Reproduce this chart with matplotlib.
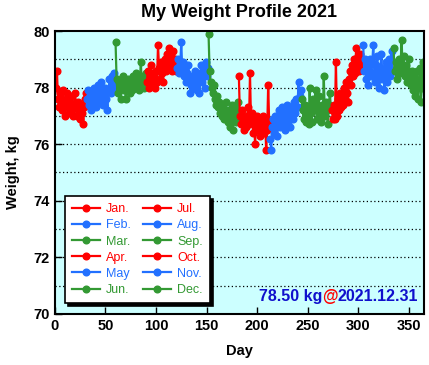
import matplotlib.pyplot as plt

plt.rcParams['font.family'] = ['Liberation Sans', 'DejaVu Sans']

month_names = ['Jan.', 'Feb.', 'Mar.', 'Apr.', 'May', 'Jun.',
               'Jul.', 'Aug.', 'Sep.', 'Oct.', 'Nov.', 'Dec.']
month_colors = ['#ff0000', '#2270ff', '#339933'] * 4

jan = [78.0, 78.6, 77.6, 77.3, 77.8, 77.5, 77.2, 77.9, 77.4, 77.0, 77.6, 77.8, 77.3, 77.1, 77.5, 77.7,
       77.2, 77.0, 77.4, 77.8, 77.3, 77.0, 77.5, 77.2, 76.9, 77.4, 77.1, 76.7, 77.3, 77.6, 77.8]
feb = [77.6, 77.9, 77.4, 77.7, 77.2, 77.8, 77.5, 78.0, 77.6, 77.3, 77.9, 78.1, 77.7, 77.5, 78.2, 77.9,
       77.4, 77.8, 78.0, 77.6, 77.2, 77.9, 78.3, 77.8, 78.4, 78.0, 78.5, 78.1]
mar = [79.6, 78.3, 77.8, 78.2, 78.0, 77.6, 78.1, 78.4, 77.9, 78.2, 77.6, 78.0, 78.3, 78.1, 77.8, 78.2,
       77.9, 78.4, 78.0, 78.2, 78.5, 78.1, 78.3, 77.9, 78.2, 78.9, 78.1, 78.4, 78.0, 78.3, 78.5]
apr = [78.2, 78.6, 78.0, 78.4, 78.8, 78.1, 78.5, 78.3, 78.0, 78.6, 78.2, 79.5, 78.7, 78.3, 78.9, 78.5,
       78.2, 78.8, 79.0, 78.6, 79.2, 78.7, 79.4, 78.9, 79.1, 78.6, 79.3, 78.8, 79.0, 78.6]
may = [78.7, 79.0, 78.5, 78.8, 79.6, 78.6, 78.9, 78.4, 78.7, 78.2, 78.5, 78.8, 78.3, 77.8, 78.1, 78.4,
       78.0, 78.3, 78.6, 78.2, 77.9, 78.4, 77.8, 78.5, 78.8, 78.2, 78.6, 78.0, 78.9, 78.4, 78.7]
jun = [79.9, 78.6, 78.2, 78.0, 77.8, 78.1, 77.6, 77.4, 77.7, 77.3, 77.5, 77.1, 77.4, 77.0, 77.3, 76.9,
       77.2, 77.5, 77.0, 76.8, 77.2, 76.6, 77.0, 77.4, 76.5, 77.1, 77.3, 76.8, 77.2, 77.5]
jul = [78.4, 77.0, 76.7, 77.2, 76.8, 76.5, 77.0, 76.6, 76.9, 77.3, 76.7, 78.5, 76.8, 77.1, 76.4, 76.9,
       76.0, 76.7, 77.0, 76.5, 76.8, 76.3, 76.9, 76.6, 77.0, 76.4, 76.8, 75.8, 76.5, 78.1, 76.7]
aug = [76.2, 75.8, 76.6, 76.9, 76.4, 77.0, 76.7, 76.3, 76.8, 77.2, 76.6, 76.9, 77.3, 76.7, 77.1, 76.5,
       77.0, 77.4, 76.8, 77.2, 76.6, 77.0, 77.3, 76.9, 77.5, 77.1, 77.6, 77.3, 78.2, 77.7, 77.9]
sep = [77.6, 77.2, 76.9, 77.4, 76.8, 77.3, 77.0, 76.7, 78.0, 77.1, 76.8, 77.6, 77.2, 77.4, 77.9, 76.9,
       77.3, 77.7, 77.1, 76.8, 77.4, 77.0, 78.4, 77.0, 77.5, 77.2, 76.7, 77.4, 77.8, 77.3]
oct_ = [77.2, 76.9, 77.4, 76.9, 78.9, 77.0, 77.6, 77.2, 77.8, 77.3, 77.7, 77.4, 78.0, 77.6, 78.2, 77.8,
        77.5, 78.3, 78.6, 78.1, 78.8, 78.4, 79.0, 78.5, 79.4, 78.7, 79.1, 78.6, 79.2, 78.8, 78.9]
nov = [79.5, 78.6, 79.0, 78.3, 78.8, 78.1, 78.6, 79.0, 78.4, 78.9, 79.5, 78.5, 78.2, 78.8, 79.1, 78.4,
       78.0, 78.6, 79.2, 78.3, 78.7, 77.9, 78.5, 78.9, 78.2, 78.6, 79.0, 78.4, 79.3, 78.6]
dec = [79.4, 78.6, 78.9, 78.3, 78.7, 79.0, 78.5, 78.8, 79.7, 78.6, 79.1, 78.4, 78.8, 78.2, 78.6, 79.0,
       78.4, 78.1, 78.6, 77.9, 78.4, 77.7, 78.2, 78.6, 77.6, 78.1, 78.7, 77.5, 78.0, 78.9, 78.5]

months = [jan, feb, mar, apr, may, jun, jul, aug, sep, oct_, nov, dec]

fig = plt.figure(figsize=(4.29, 3.65), dpi=100)
ax = fig.add_axes([0.128, 0.140, 0.860, 0.775])
ax.set_facecolor('#ccffff')

start = 1
for name, color, vals in zip(month_names, month_colors, months):
    days = list(range(start, start + len(vals)))
    ax.plot(days, vals, color=color, lw=1.6, marker='o', ms=4.8, label=name)
    start += len(vals)

ax.set_xlim(0, 365)
ax.set_ylim(70, 80)
ax.set_xticks(range(0, 351, 50))
ax.set_yticks(range(70, 81, 2))
for yv in range(71, 80):
    ax.axhline(yv, color='black', ls=(0, (1, 2)), lw=0.9, zorder=0.5)
ax.tick_params(direction='in', labelsize=10.5, width=1, length=5)
for lab in ax.get_xticklabels() + ax.get_yticklabels():
    lab.set_fontweight('bold')
for sp in ax.spines.values():
    sp.set_linewidth(1.5)

ax.set_xlabel('Day', fontsize=10.5, fontweight='bold', labelpad=8)
ax.set_ylabel('Weight, kg', fontsize=10.5, fontweight='bold', labelpad=10)
ax.set_title('My Weight Profile 2021', fontsize=13, fontweight='bold', pad=10)

leg = ax.legend(ncol=2, loc='lower left', bbox_to_anchor=(0.01, 0.015), fontsize=9,
                labelcolor='linecolor', frameon=True, fancybox=False,
                shadow={'color': 'black', 'alpha': 1}, framealpha=1,
                handlelength=2.2, handletextpad=0.5, columnspacing=1.0,
                labelspacing=0.33, borderpad=0.6)
leg.get_frame().set_edgecolor('black')
leg.get_frame().set_linewidth(1.2)

t1 = ax.text(0.985, 0.035, '2021.12.31', transform=ax.transAxes, ha='right', va='bottom',
             color='#1010cc', fontsize=11.5, fontweight='bold')
t2 = ax.annotate('@', xy=(0, 0), xycoords=t1, ha='right', va='bottom',
                 color='#ff0000', fontsize=11.5, fontweight='bold')
ax.annotate('78.50 kg', xy=(0, 0), xycoords=t2, ha='right', va='bottom',
            color='#1010cc', fontsize=11.5, fontweight='bold')

fig.savefig('out.png', dpi=100)
